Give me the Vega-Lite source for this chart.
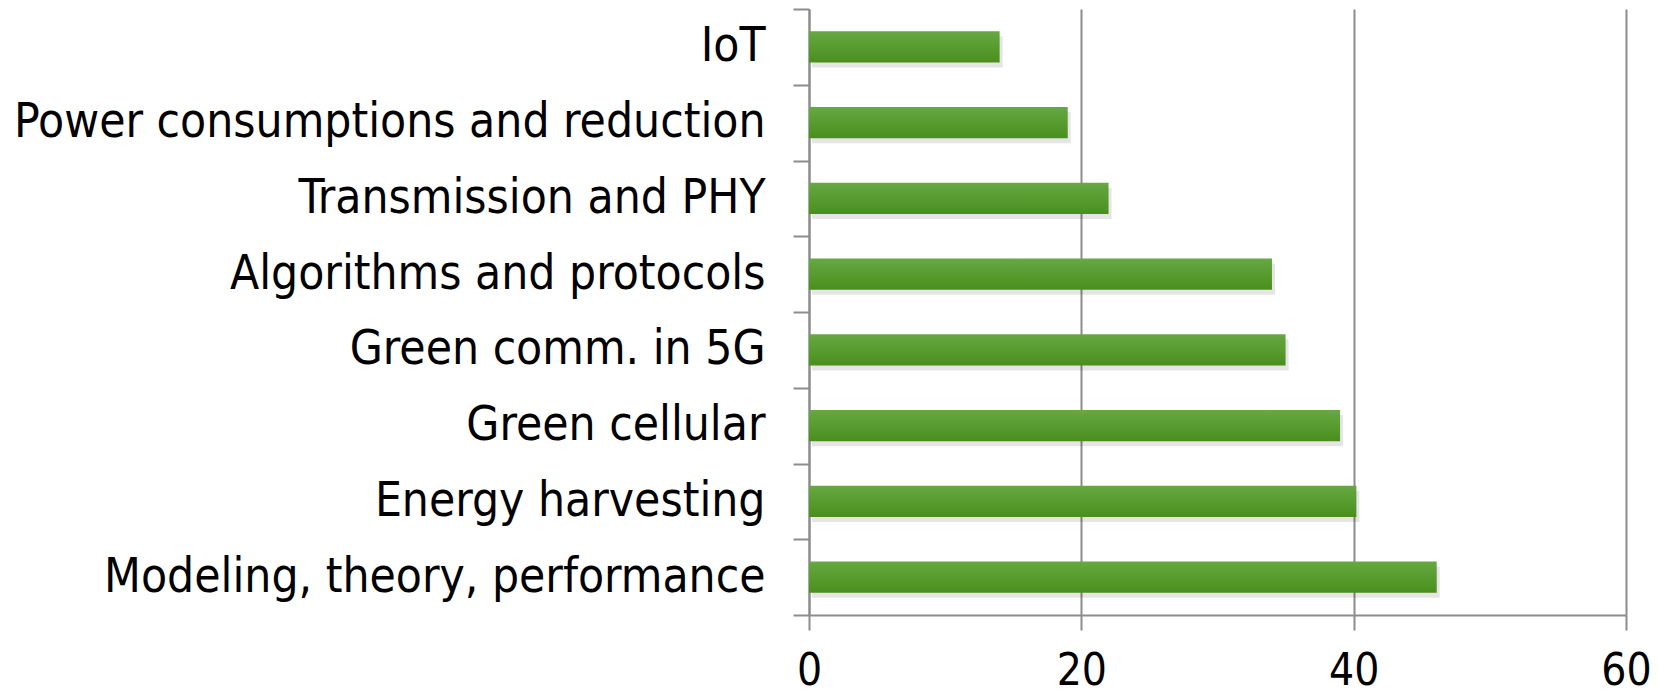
{
  "$schema": "https://vega.github.io/schema/vega-lite/v6.json",
  "width": 817,
  "height": 606,
  "autosize": {"type": "none"},
  "padding": {"left": 809, "top": 9, "right": 32, "bottom": 79},
  "background": "white",
  "data": {
    "values": [
      {"topic": "IoT", "count": 14},
      {"topic": "Power consumptions and reduction", "count": 19},
      {"topic": "Transmission and PHY", "count": 22},
      {"topic": "Algorithms and protocols", "count": 34},
      {"topic": "Green comm. in 5G", "count": 35},
      {"topic": "Green cellular", "count": 39},
      {"topic": "Energy harvesting", "count": 40.2},
      {"topic": "Modeling, theory, performance", "count": 46.1}
    ]
  },
  "encoding": {
    "y": {
      "field": "topic",
      "type": "nominal",
      "sort": null,
      "scale": {"paddingInner": 0, "paddingOuter": 0},
      "axis": {
        "title": null,
        "tickBand": "extent",
        "tickSize": 16,
        "tickWidth": 2,
        "tickColor": "#8c8c8c",
        "domainColor": "#8c8c8c",
        "domainWidth": 2,
        "labelPadding": 28,
        "labelFont": "DejaVu Sans Condensed",
        "labelFontSize": 47.5,
        "labelColor": "#000000",
        "labelLimit": 900,
        "grid": false
      }
    },
    "x": {
      "field": "count",
      "type": "quantitative",
      "scale": {"domain": [0, 60], "nice": false},
      "axis": {
        "title": null,
        "values": [0, 20, 40, 60],
        "tickSize": 15,
        "tickWidth": 2,
        "tickColor": "#8c8c8c",
        "domainColor": "#8c8c8c",
        "domainWidth": 2,
        "grid": true,
        "gridColor": "#8c8c8c",
        "gridWidth": 2,
        "labelPadding": 19,
        "labelFont": "DejaVu Sans Condensed",
        "labelFontSize": 44,
        "labelColor": "#000000",
        "labelFlush": false
      }
    }
  },
  "layer": [
    {
      "mark": {"type": "bar", "color": "#000000", "opacity": 0.1, "xOffset": 3, "yOffset": 5, "height": {"band": 0.41}}
    },
    {
      "mark": {
        "type": "bar",
        "height": {"band": 0.41},
        "color": {
          "gradient": "linear",
          "x1": 0, "y1": 0, "x2": 0, "y2": 1,
          "stops": [
            {"offset": 0, "color": "#66a842"},
            {"offset": 1, "color": "#4a8f1d"}
          ]
        }
      }
    }
  ],
  "config": {"view": {"stroke": null}}
}
